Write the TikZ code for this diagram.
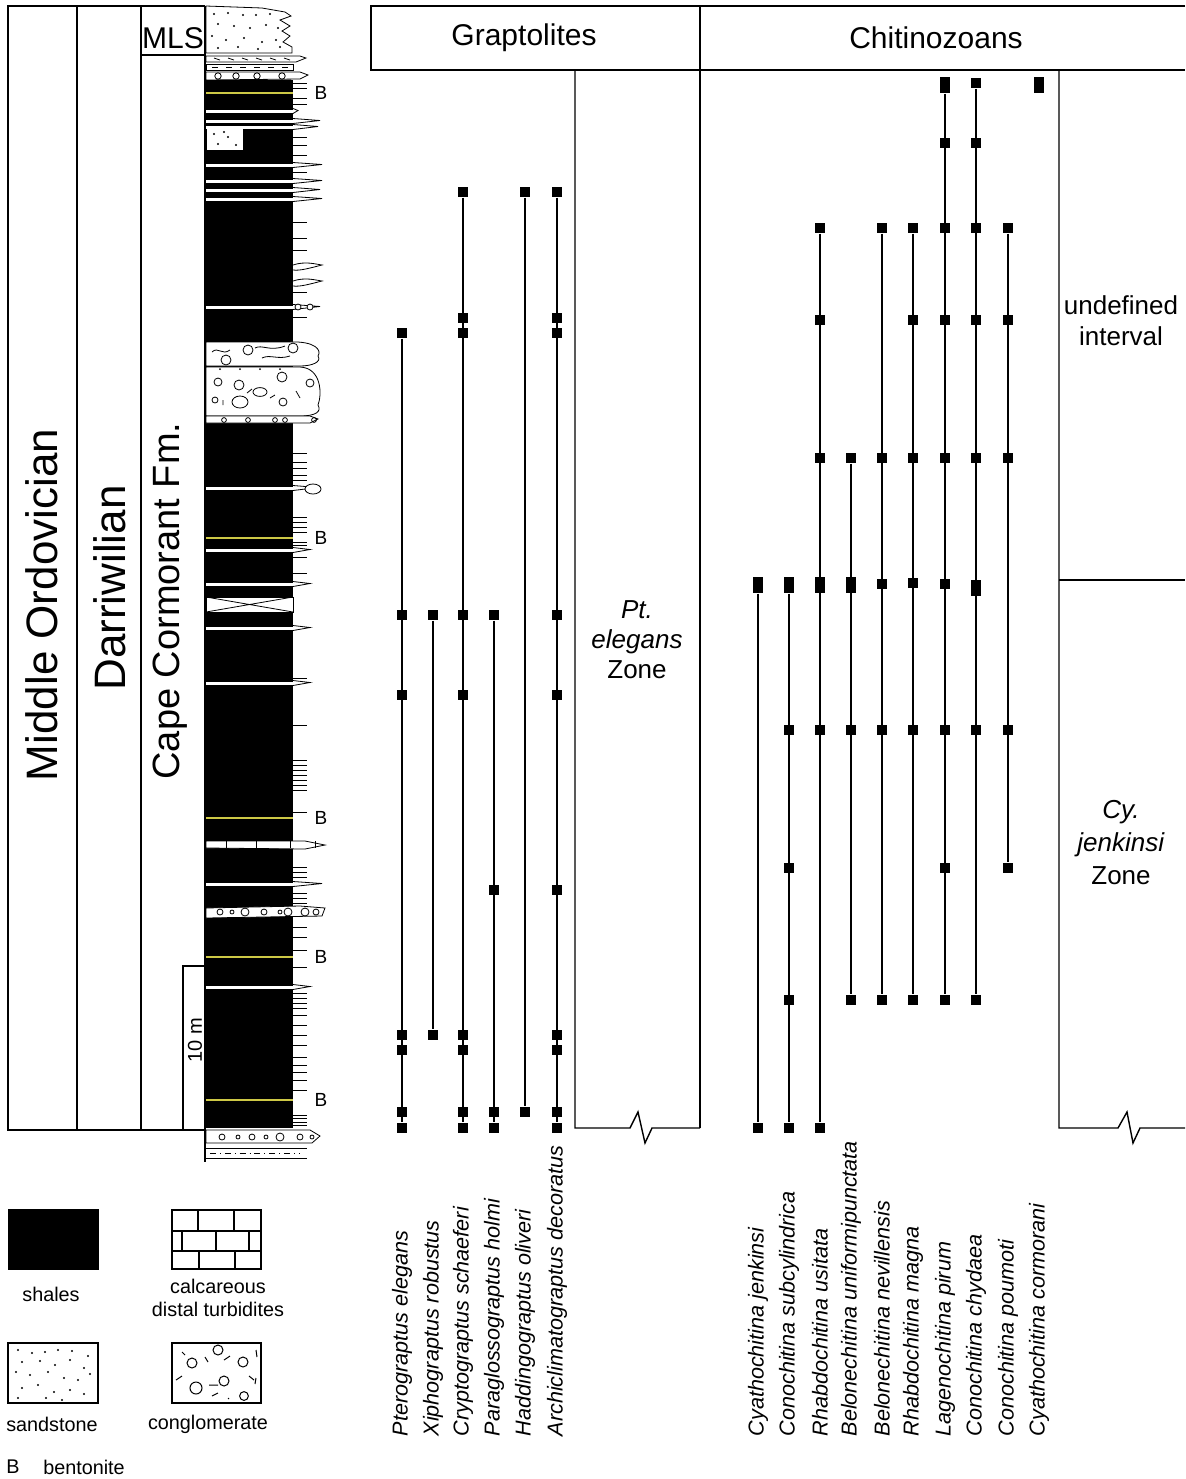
\documentclass[tikz,border=0pt]{standalone}
\usepackage{fontspec}
\setmainfont{Liberation Sans}
\usetikzlibrary{positioning}
\definecolor{bentonite}{RGB}{205,200,70}
\tikzset{
  fossil/.style={fill=black, inner sep=0pt, minimum width=5pt, minimum height=5pt},
  tallfossil/.style={fossil, minimum height=8pt},
  taxon/.style={rotate=90, anchor=west, inner sep=0pt, font=\fontsize{10.8}{13}\selectfont\itshape},
  unit/.style={rotate=90, inner sep=0pt},
  zone/.style={align=center, inner sep=0pt, font=\fontsize{13}{15}\selectfont},
  key/.style={align=center, inner sep=0pt, font=\fontsize{9.9}{11.8}\selectfont},
  bed/.style={draw=black, fill=white, line width=0.4pt},
}
\begin{document}
\begin{tikzpicture}[x=0.5pt, y=-0.5pt, line width=0.7pt]
\useasboundingbox (0,0) rectangle (1185,1479);

\draw (205,6) -- (8,6) -- (8,1130) -- (206,1130);
\draw (77,6) -- (77,1130) (141,6) -- (141,1130) (141,55) -- (205,55) (205,6) -- (205,1162);
\node[unit, font=\fontsize{22}{26}\selectfont] (mo) at (42,605) {Middle Ordovician};
\node[unit, font=\fontsize{22}{26}\selectfont] (dw) at (110,588) {Darriwilian};
\node[unit, font=\fontsize{19}{23}\selectfont] (ccf) at (170,601) {Cape Cormorant Fm.};
\node[inner sep=0pt, font=\fontsize{15}{18}\selectfont] (mls) at (173,38) {MLS};

\draw[bed] (206,6) -- (262,8) -- (285,12) -- (291,16) -- (280,20) -- (290,26) -- (282,31) -- (290,36) -- (283,42) -- (292,47) -- (292,53) -- (206,53) -- cycle;
\foreach \px/\py in {214/14,228/13,243/15,256/15,270/14,218/24,234/26,250/28,266/25,278/28,212/36,226/40,244/38,262/42,276/40,218/48,238/47,258/49,280/47}
  \fill (\px,\py) circle (0.6pt);
\draw[bed] (206,56) -- (300,56) -- (306,58) -- (296,62) -- (206,62) -- cycle;
\foreach \px in {214,228,242,256,270,284}
  \draw[line width=0.4pt] (\px,58) -- (\px+6,60);
\draw[bed] (206,64) -- (293,64) -- (293,70) -- (206,70) -- cycle;
\foreach \px in {212,226,240,254,268,282}
  \draw[line width=0.4pt] (\px,67) -- (\px+6,67);
\draw[bed] (206,72) -- (300,72) -- (308,75) -- (300,79) -- (206,80) -- cycle;
\foreach \px in {218,236,257,282}
  \draw[line width=0.4pt] (\px,76) circle (1.6pt);

\fill (206,80) rectangle (293,1128);
\draw[bed] (206,128) rectangle (243,150);
\foreach \px/\py in {214/134,228/137,218/144,236/145,224/132}
  \fill (\px,\py) circle (0.6pt);
\foreach \y/\e in {111/298,121/320,127/318,165/322,181/322,190/320,199/322,307/320,488/318,550/310,584/310,628/310,683/310,884/322,987/310}
{
  \fill[white] (206,\y-1.5) rectangle (293,\y+1.5);
  \draw[line width=0.4pt] (293,\y-2.5) -- (\e,\y-0.5) -- (293,\y+2.5);
}
\foreach \y in {267,283}
  \draw[line width=0.4pt] (293,\y-2) .. controls (305,\y-6) and (315,\y-3) .. (322,\y-2) .. controls (310,\y+1) and (300,\y+4) .. (293,\y+3);
\foreach \px in {298,310}
  \draw[bed] (\px,307) circle (1.5pt);
\draw[bed] (313,489) ellipse (4pt and 2.5pt);

\draw[bed] (206,342) -- (290,342) .. controls (315,341) and (322,350) .. (318,356) .. controls (322,362) and (312,366) .. (300,366) -- (206,366) -- cycle;
\draw[bed] (206,367) -- (300,367) .. controls (322,368) and (322,395) .. (318,405) .. controls (322,412) and (315,416) .. (300,416) -- (206,416) -- cycle;
\draw[bed] (206,416) -- (310,416) -- (318,419) -- (310,423) -- (206,423) -- cycle;
\foreach \px/\py/\r in {226/360/2.5,248/350/2.5,293/348/2.5,218/382/2,239/385/2.5,282/377/2.5,310/383/2,215/400/1.5,283/402/2}
  \draw[line width=0.4pt] (\px,\py) circle (\r pt);
\draw[line width=0.4pt] (260,392) ellipse (3.5pt and 2.2pt) (240,402) ellipse (4pt and 3pt);
\draw[line width=0.4pt] (212,352) .. controls (218,346) and (222,356) .. (230,350);
\draw[line width=0.4pt] (255,348) .. controls (262,344) and (270,352) .. (285,346);
\draw[line width=0.4pt] (262,358) .. controls (270,354) and (278,360) .. (290,356);
\draw[line width=0.4pt] (247,393) -- (252,389) (296,391) -- (300,398) (270,398) -- (275,395) (223,400) -- (223,405);
\foreach \px in {224,248,275,285,314}
  \draw[line width=0.4pt] (\px,420) circle (1.2pt);
\foreach \px in {220,240,260,280}
  \fill (\px,369) circle (0.5pt);

\draw[bed] (206,597) rectangle (293,612);
\draw[line width=0.4pt] (206,597) -- (293,612) (206,612) -- (293,597);

\draw[bed] (206,841) -- (305,841) -- (325,845) -- (305,849) -- (206,848) -- cycle;
\foreach \px in {226,256,290,315}
  \draw[line width=0.4pt] (\px,841) -- (\px,848);
\draw[bed] (206,908) -- (300,906) -- (325,908) -- (322,916) -- (206,918) -- cycle;
\foreach \px/\r in {220/1.5,232/1,245/2,264/1.5,280/1,288/2,305/2,316/1.5}
  \draw[line width=0.4pt] (\px,912) circle (\r pt);

\foreach \y in {93,538,818,957,1100}
{
  \draw[bentonite, line width=1pt] (206,\y) -- (293,\y);
  \node[inner sep=0pt, font=\fontsize{9.5}{11}\selectfont] at (321,\y) {B};
}
\foreach \y in {83,88,98,104,137,145,155,172,222,238,250,292,317,453,462,468,475,480,517,522,527,532,542,545,557,573,678,725,760,765,770,775,780,785,790,812,867,872,877,893,898,903,927,937,950,967,993,998,1003,1008,1015,1025,1035,1045,1057,1065,1072,1080,1090,1115,1118,1122,1125}
  \draw[line width=0.5pt] (293,\y) -- (307,\y);

\draw[bed] (206,1130) -- (310,1130) -- (320,1136) -- (312,1143) -- (206,1143) -- cycle;
\foreach \px/\r in {222/1.5,238/1,252/1.5,266/1,280/2,300/1.5,312/1}
  \draw[line width=0.4pt] (\px,1137) circle (\r pt);
\draw[line width=0.4pt] (206,1148) -- (307,1148) (206,1158) -- (307,1158);
\draw[line width=0.4pt, dash dot] (210,1153) -- (300,1153);

\draw (205,966) -- (183,966) -- (183,1130);
\node[unit, font=\fontsize{10}{12}\selectfont] (scl) at (195,1040) {10 m};

\draw (1185,6) -- (371,6) -- (371,70) -- (1185,70);
\draw (700,6) -- (700,1128);
\node[inner sep=0pt, font=\fontsize{15}{18}\selectfont] (grap) at (524,38) {Graptolites};
\node[inner sep=0pt, font=\fontsize{15}{18}\selectfont] (chit) at (936,38) {Chitinozoans};
\draw (575,70) -- (575,1128) -- (630,1128) -- (638,1112) -- (645,1143) -- (652,1128) -- (700,1128);
\draw (1059,70) -- (1059,1128) -- (1118,1128) -- (1127,1112) -- (1133,1143) -- (1140,1128) -- (1185,1128);
\draw (1059,580) -- (1185,580);
\node[zone] (ptz) at (637,640) {\textit{Pt.}\\\textit{elegans}\\Zone};
\node[zone, font=\fontsize{13}{15.5}\selectfont] (undef) at (1121,321) {undefined\\interval};
\node[zone, font=\fontsize{13}{16.5}\selectfont] (cyz) at (1121,843) {\textit{Cy.}\\\textit{jenkinsi}\\Zone};

\foreach \y [count=\k] in {333,615,695,1035,1050,1112,1128}
  \node[fossil] (pte\k) at (402,\y) {};
\draw (pte1) -- (pte7);
\foreach \y [count=\k] in {615,1035}
  \node[fossil] (xip\k) at (433,\y) {};
\draw (xip1) -- (xip2);
\foreach \y [count=\k] in {192,318,333,615,695,1035,1050,1112,1128}
  \node[fossil] (cry\k) at (463,\y) {};
\draw (cry1) -- (cry9);
\foreach \y [count=\k] in {615,890,1112,1128}
  \node[fossil] (par\k) at (494,\y) {};
\draw (par1) -- (par4);
\foreach \y [count=\k] in {192,1112}
  \node[fossil] (had\k) at (525,\y) {};
\draw (had1) -- (had2);
\foreach \y [count=\k] in {192,318,333,615,695,890,1035,1050,1112,1128}
  \node[fossil] (arc\k) at (557,\y) {};
\draw (arc1) -- (arc10);

\foreach \y/\s [count=\k] in {585/tallfossil,1128/fossil}
  \node[\s] (cjen\k) at (758,\y) {};
\draw (cjen1) -- (cjen2);
\foreach \y/\s [count=\k] in {585/tallfossil,730/fossil,868/fossil,1000/fossil,1128/fossil}
  \node[\s] (csub\k) at (789,\y) {};
\draw (csub1) -- (csub5);
\foreach \y/\s [count=\k] in {228/fossil,320/fossil,458/fossil,585/tallfossil,730/fossil,1128/fossil}
  \node[\s] (rusi\k) at (820,\y) {};
\draw (rusi1) -- (rusi6);
\foreach \y/\s [count=\k] in {458/fossil,585/tallfossil,730/fossil,1000/fossil}
  \node[\s] (buni\k) at (851,\y) {};
\draw (buni1) -- (buni4);
\foreach \y/\s [count=\k] in {228/fossil,458/fossil,584/fossil,730/fossil,1000/fossil}
  \node[\s] (bnev\k) at (882,\y) {};
\draw (bnev1) -- (bnev5);
\foreach \y/\s [count=\k] in {228/fossil,320/fossil,458/fossil,583/fossil,730/fossil,1000/fossil}
  \node[\s] (rmag\k) at (913,\y) {};
\draw (rmag1) -- (rmag6);
\foreach \y/\s [count=\k] in {85/tallfossil,143/fossil,228/fossil,320/fossil,458/fossil,584/fossil,730/fossil,868/fossil,1000/fossil}
  \node[\s] (lpir\k) at (945,\y) {};
\draw (lpir1) -- (lpir9);
\foreach \y/\s [count=\k] in {83/fossil,143/fossil,228/fossil,320/fossil,458/fossil,588/tallfossil,730/fossil,1000/fossil}
  \node[\s] (cchy\k) at (976,\y) {};
\draw (cchy1) -- (cchy8);
\foreach \y/\s [count=\k] in {228/fossil,320/fossil,458/fossil,730/fossil,868/fossil}
  \node[\s] (cpou\k) at (1008,\y) {};
\draw (cpou1) -- (cpou5);
\node[tallfossil] (ccor1) at (1039,85) {};

\node[taxon] (pte) at (402,1437) {Pterograptus elegans};
\node[taxon] (xip) at (433,1437) {Xiphograptus robustus};
\node[taxon] (cry) at (463,1437) {Cryptograptus schaeferi};
\node[taxon] (par) at (494,1437) {Paraglossograptus holmi};
\node[taxon] (had) at (525,1437) {Haddingograptus oliveri};
\node[taxon] (arc) at (557,1437) {Archiclimatograptus decoratus};
\node[taxon] (cjen) at (758,1437) {Cyathochitina jenkinsi};
\node[taxon] (csub) at (789,1437) {Conochitina subcylindrica};
\node[taxon] (rusi) at (820,1437) {Rhabdochitina usitata};
\node[taxon] (buni) at (851,1437) {Belonechitina uniformipunctata};
\node[taxon] (bnev) at (882,1437) {Belonechitina nevillensis};
\node[taxon] (rmag) at (913,1437) {Rhabdochitina magna};
\node[taxon] (lpir) at (945,1437) {Lagenochitina pirum};
\node[taxon] (cchy) at (976,1437) {Conochitina chydaea};
\node[taxon] (cpou) at (1008,1437) {Conochitina poumoti};
\node[taxon] (ccor) at (1039,1437) {Cyathochitina cormorani};

\fill (8,1209) rectangle (99,1270);
\node[key] (shale) at (51,1294) {shales};
\draw (172,1210) rectangle (261,1269) (172,1231) -- (261,1231) (172,1251) -- (261,1251);
\draw (198,1210) -- (198,1231) (234,1210) -- (234,1231) (182,1231) -- (182,1251) (216,1231) -- (216,1251) (249,1231) -- (249,1251) (199,1251) -- (199,1269) (235,1251) -- (235,1269);
\node[key] (calc) at (218,1298) {calcareous\\distal turbidites};
\draw (8,1343) rectangle (98,1403);
\foreach \px/\py in {18/1350,32/1353,45/1352,58/1350,72/1351,88/1356,22/1362,40/1361,55/1365,70/1360,84/1368,16/1372,30/1375,48/1372,64/1378,78/1380,90/1374,22/1388,38/1385,54/1392,70/1390,84/1394,18/1398,46/1398,62/1400}
  \fill (\px,\py) circle (0.6pt);
\node[key] (sand) at (52,1424) {sandstone};
\draw (172,1343) rectangle (261,1403);
\foreach \px/\py/\r in {192/1363/2.5,243/1362/2.5,196/1388/3,224/1381/2.5,244/1396/2.2,218/1350/2.5}
  \draw[line width=0.5pt] (\px,\py) circle (\r pt);
\draw[line width=0.5pt] (182,1352) -- (185,1355) (205,1357) -- (208,1362) (224,1360) -- (230,1356) (249,1376) -- (254,1380) (176,1380) -- (182,1376) (209,1385) -- (218,1385) (212,1396) -- (218,1393) (256,1350) -- (257,1357) (256,1378) -- (255,1384) (228,1398) -- (229,1399);
\node[key] (cong) at (208,1424) {conglomerate};
\node[key] (bkey) at (13,1467) {B};
\node[key] (bent) at (84,1467) {bentonite};
\end{tikzpicture}
\end{document}
